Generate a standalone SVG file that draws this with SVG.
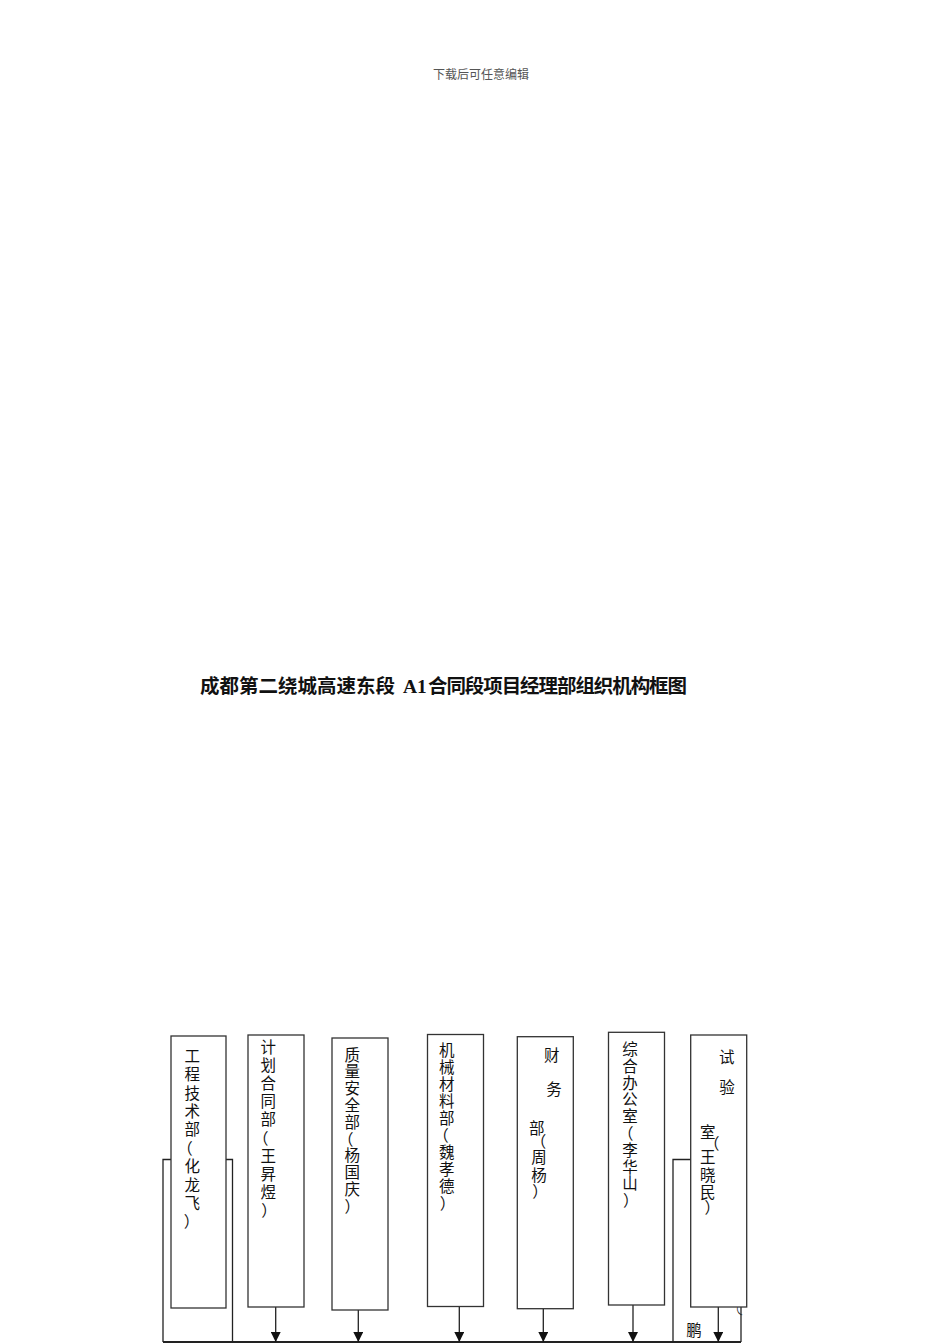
<svg xmlns="http://www.w3.org/2000/svg" width="950" height="1344" viewBox="0 0 950 1344">
<style>
.box{fill:#fff;stroke:#333;stroke-width:1.3}
.lbl{font-family:"Noto Sans CJK SC","Noto Sans",sans-serif;font-size:15.5px;fill:#111;text-anchor:middle}
.conn{fill:none;stroke:#222;stroke-width:1.3}
.hdr{font-family:"Noto Sans CJK SC",sans-serif;font-size:12px;fill:#555}
.ttl{font-family:"Noto Sans CJK SC",sans-serif;font-size:19.5px;font-weight:bold;fill:#111}
</style>
<defs>
<marker id="ah" markerWidth="10" markerHeight="10" refX="10" refY="5" orient="auto" markerUnits="userSpaceOnUse">
<path d="M0,0 L10,5 L0,10 z" fill="#111"/>
</marker>
</defs>
<rect width="950" height="1344" fill="#fff"/>
<text class="hdr" x="433" y="78.6" textLength="96">下载后可任意编辑</text>
<text class="ttl" x="200" y="693" textLength="195">成都第二绕城高速东段</text>
<text x="403" y="693" font-family="Liberation Serif,serif" font-size="19.5" font-weight="bold" fill="#111">A1</text>
<text class="ttl" x="428" y="693" textLength="259">合同段项目经理部组织机构框图</text>

<g id="connectors">
<path class="conn" d="M163,1342 V1159.5 H171"/>
<path class="conn" d="M226,1159.5 H232.5 V1342"/>
<path class="conn" d="M673,1342 V1159.5 H691"/>
<path class="conn" d="M741,1307 V1342"/>
<path d="M163,1342 H741" fill="none" stroke="#222" stroke-width="1.8"/>
<line class="conn" x1="275.7" y1="1307" x2="275.7" y2="1342" marker-end="url(#ah)"/>
<line class="conn" x1="358.3" y1="1310" x2="358.3" y2="1342" marker-end="url(#ah)"/>
<line class="conn" x1="459.3" y1="1306.5" x2="459.3" y2="1342" marker-end="url(#ah)"/>
<line class="conn" x1="543.3" y1="1309" x2="543.3" y2="1342" marker-end="url(#ah)"/>
<line class="conn" x1="633" y1="1305" x2="633" y2="1342" marker-end="url(#ah)"/>
<line class="conn" x1="718.3" y1="1307" x2="718.3" y2="1342" marker-end="url(#ah)"/>
<text class="lbl" x="694" y="1335.5">鹏</text>
<text x="736" y="1317" font-family="Noto Sans CJK SC,sans-serif" font-size="10" fill="#222" text-anchor="middle" transform="rotate(-30 736 1313)">（</text>
</g>

<g id="n1">
<rect class="box" x="171" y="1036" width="55" height="272"/>
<text class="lbl"><tspan x="192.3" y="1061.7">工</tspan><tspan x="192.3" y="1080.1">程</tspan><tspan x="192.3" y="1098.5">技</tspan><tspan x="192.3" y="1116.9">术</tspan><tspan x="192.3" y="1135.3">部</tspan><tspan x="185" y="1153.7">（</tspan><tspan x="192.3" y="1172.1">化</tspan><tspan x="192.3" y="1190.5">龙</tspan><tspan x="192.3" y="1208.9">飞</tspan><tspan x="191.6" y="1227.3">）</tspan></text>
</g>
<g id="n2">
<rect class="box" x="248" y="1035" width="56" height="272"/>
<text class="lbl"><tspan x="268.3" y="1052.6">计</tspan><tspan x="268.3" y="1070.8">划</tspan><tspan x="268.3" y="1089">合</tspan><tspan x="268.3" y="1107.2">同</tspan><tspan x="268.3" y="1125.4">部</tspan><tspan x="260.7" y="1143.6">（</tspan><tspan x="268.3" y="1161.8">王</tspan><tspan x="268.3" y="1180">昇</tspan><tspan x="268.3" y="1198.2">煜</tspan><tspan x="269" y="1216.4">）</tspan></text>
</g>
<g id="n3">
<rect class="box" x="332" y="1038" width="56" height="272"/>
<text class="lbl"><tspan x="352.3" y="1060.6">质</tspan><tspan x="352.3" y="1077.4">量</tspan><tspan x="352.3" y="1094.2">安</tspan><tspan x="352.3" y="1111">全</tspan><tspan x="352.3" y="1127.8">部</tspan><tspan x="345.7" y="1144.6">（</tspan><tspan x="352.3" y="1161.4">杨</tspan><tspan x="352.3" y="1178.2">国</tspan><tspan x="352.3" y="1195">庆</tspan><tspan x="352.3" y="1211.8">）</tspan></text>
</g>
<g id="n4">
<rect class="box" x="427.5" y="1034.5" width="56" height="272"/>
<text class="lbl"><tspan x="446.7" y="1055.9">机</tspan><tspan x="446.7" y="1072.9">械</tspan><tspan x="446.7" y="1089.9">材</tspan><tspan x="446.7" y="1106.9">料</tspan><tspan x="446.7" y="1123.9">部</tspan><tspan x="440.9" y="1140.9">（</tspan><tspan x="446.7" y="1157.9">魏</tspan><tspan x="446.7" y="1174.9">孝</tspan><tspan x="446.7" y="1191.9">德</tspan><tspan x="447.5" y="1208.9">）</tspan></text>
</g>
<g id="n5">
<rect class="box" x="517.3" y="1036.7" width="56" height="272"/>
<text class="lbl"><tspan x="551.7" y="1060.9">财</tspan><tspan x="554" y="1094.9">务</tspan><tspan x="536.7" y="1133.9">部</tspan><tspan x="538.4" y="1146.6">（</tspan><tspan x="539" y="1163.2">周</tspan><tspan x="539" y="1180.9">杨</tspan><tspan x="540" y="1196.6">）</tspan></text>
</g>
<g id="n6">
<rect class="box" x="608.5" y="1032.3" width="56" height="272.7"/>
<text class="lbl"><tspan x="630" y="1054.9">综</tspan><tspan x="630" y="1071.7">合</tspan><tspan x="630" y="1088.5">办</tspan><tspan x="630" y="1105.3">公</tspan><tspan x="630" y="1122.1">室</tspan><tspan x="625.7" y="1138.9">（</tspan><tspan x="630" y="1155.7">李</tspan><tspan x="630" y="1172.5">华</tspan><tspan x="630" y="1189.3">山</tspan><tspan x="630.8" y="1206.1">）</tspan></text>
</g>
<g id="n7">
<rect class="box" x="690.7" y="1035" width="56" height="272"/>
<text class="lbl"><tspan x="726.7" y="1063.2">试</tspan><tspan x="727" y="1093.2">验</tspan><tspan x="707.7" y="1137.6">室</tspan><tspan x="711.7" y="1148.9">（</tspan><tspan x="707.7" y="1163.2">王</tspan><tspan x="707.7" y="1180.9">晓</tspan><tspan x="707.7" y="1197.6">民</tspan><tspan x="712.3" y="1212.6">）</tspan></text>
</g>
</svg>
